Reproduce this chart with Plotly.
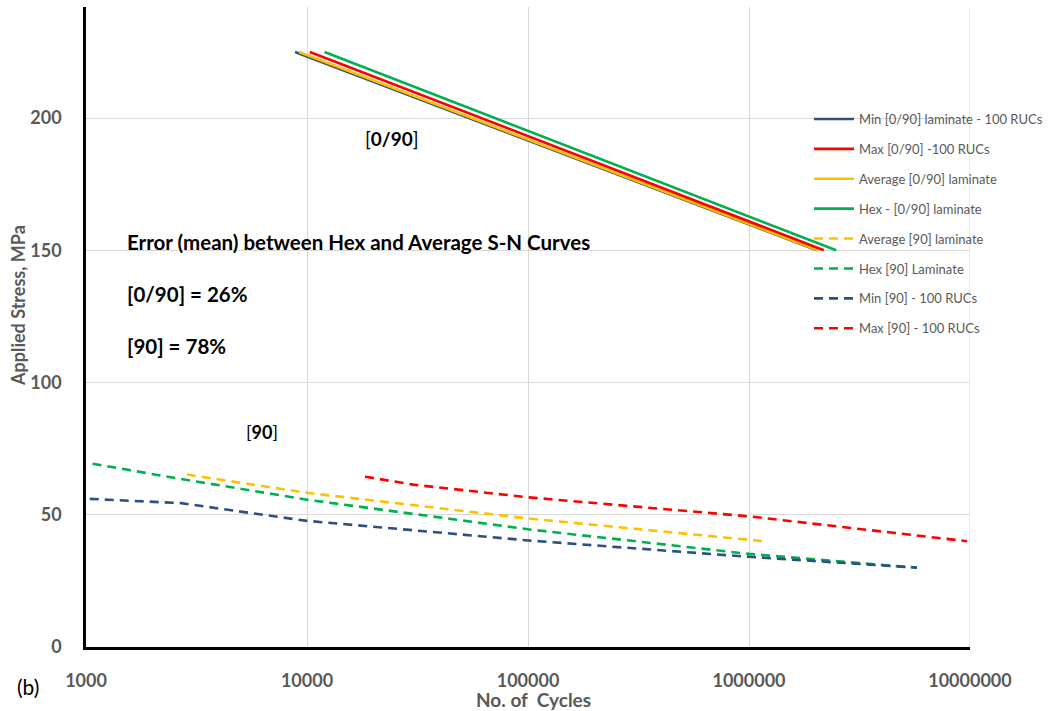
import plotly.graph_objects as go

# S-N data: number of cycles vs applied stress (MPa)
min_0_90_n = [8830, 2.03e6]
min_0_90_s = [225, 150]
max_0_90_n = [10300, 2.18e6]
max_0_90_s = [225, 150]
avg_0_90_n = [9200, 2.05e6]
avg_0_90_s = [225, 150]
hex_0_90_n = [12000, 2.48e6]
hex_0_90_s = [225, 150]

avg_90_n = [2860, 10000, 100000, 1.16e6]
avg_90_s = [65.2, 58.3, 48.6, 40]
hex_90_n = [1070, 2660, 10000, 100000, 1e6, 5.75e6]
hex_90_s = [69.3, 63.6, 55.7, 44.5, 35.2, 30]
min_90_n = [1040, 2700, 5000, 10000, 100000, 1e6, 5.75e6]
min_90_s = [56, 54.4, 51.2, 47.7, 40.3, 34.1, 30]
max_90_n = [18300, 30200, 100000, 1e6, 9.7e6]
max_90_s = [64.4, 61.4, 56.6, 49.4, 40]

x_ticks = [1000, 10000, 100000, 1000000, 10000000]
x_tick_text = ["1000", "10000", "100000", "1000000", "10000000"]
y_ticks = [0, 50, 100, 150, 200]
y_tick_text = ["0", "50", "100", "150", "200"]

BLUE = "#2E4F7F"
RED = "#FF0000"
YELLOW = "#FFC000"
GREEN = "#00B050"
GREY = "#595959"
GRID = "#D9D9D9"
FONT = "Lato"
DASH = "9px,6px"

series = [
    ("Min [0/90] laminate - 100 RUCs", min_0_90_n, min_0_90_s, BLUE, "solid"),
    ("Max [0/90] -100 RUCs", max_0_90_n, max_0_90_s, RED, "solid"),
    ("Average [0/90] laminate", avg_0_90_n, avg_0_90_s, YELLOW, "solid"),
    ("Hex - [0/90] laminate", hex_0_90_n, hex_0_90_s, GREEN, "solid"),
    ("Average [90] laminate", avg_90_n, avg_90_s, YELLOW, DASH),
    ("Hex [90] Laminate", hex_90_n, hex_90_s, GREEN, DASH),
    ("Min [90] - 100 RUCs", min_90_n, min_90_s, BLUE, DASH),
    ("Max [90] - 100 RUCs", max_90_n, max_90_s, RED, DASH),
]

fig = go.Figure()
# draw order: blue under yellow under red under green for the solid set
draw_order = [0, 2, 1, 3, 4, 5, 6, 7]
for i in draw_order:
    name, n, s, color, dash = series[i]
    fig.add_trace(go.Scatter(
        x=n, y=s, mode="lines", name=name,
        line=dict(color=color, width=2.6, dash=dash),
        legendgroup=f"g{i}", legendrank=i + 1,
    ))

W0, W1, H0, H1 = 86, 970, 7, 647


def px_to_paper(px, py):
    return (px - W0) / (W1 - W0), (H1 - py) / (H1 - H0)


ann = []


def add_text(px, py, text, size, color, xanchor="center", yanchor="middle", angle=0):
    xp, yp = px_to_paper(px, py)
    ann.append(dict(x=xp, y=yp, xref="paper", yref="paper", text=text,
                    xanchor=xanchor, yanchor=yanchor, textangle=angle,
                    showarrow=False, font=dict(family=FONT, size=size, color=color)))


add_text(392, 138, "[<b>0/90</b>]", 19, "#000000")
add_text(262, 432, "[<b>90</b>]", 18, "#000000")
add_text(125, 242, "<b>Error (mean) between Hex and Average S-N Curves</b>", 20.5, "#000000", xanchor="left")
add_text(125, 294, "<b>[0/90] = 26%</b>", 20.5, "#000000", xanchor="left")
add_text(125, 346, "<b>[90] = 78%</b>", 20.5, "#000000", xanchor="left")
# axis titles
add_text(18, 306, "<b>Applied Stress, MPa</b>", 18, GREY, angle=-90)
add_text(533, 699, "<b>No. of  Cycles</b>", 19, GREY)
# top title (mostly outside the page)
add_text(527, 3, "<b>No. of Cycles</b>", 19, "#404040", yanchor="bottom")
# panel label
add_text(28, 686, "(b)", 21, "#000000")

lx, ly = px_to_paper(809, 104)

fig.update_layout(
    width=1051, height=711,
    margin=dict(l=W0, r=1051 - W1, t=H0, b=711 - H1, autoexpand=False),
    paper_bgcolor="white", plot_bgcolor="white",
    font=dict(family=FONT, color=GREY),
    showlegend=True,
    legend=dict(x=lx, y=ly, xanchor="left", yanchor="top", bgcolor="rgba(0,0,0,0)",
                font=dict(family=FONT, size=13, color=GREY), tracegroupgap=10,
                itemwidth=40),
    annotations=ann,
    # gridline at the right end of the log axis
    shapes=[dict(type="line", xref="x", yref="paper", x0=1e7, x1=1e7, y0=0, y1=1,
                 line=dict(color=GRID, width=1), layer="below")],
    xaxis=dict(type="log", range=[3, 7], tickvals=x_ticks, ticktext=x_tick_text,
               showgrid=True, gridcolor=GRID, gridwidth=1,
               showline=True, linecolor="#000000", linewidth=2.5,
               ticks="", tickfont=dict(family=FONT, size=18, color=GREY, weight="bold"),
               ticklabelstandoff=16, zeroline=False),
    yaxis=dict(range=[0, 242], tickvals=y_ticks, ticktext=y_tick_text,
               showgrid=True, gridcolor=GRID, gridwidth=1,
               showline=True, linecolor="#000000", linewidth=2.5,
               ticks="", tickfont=dict(family=FONT, size=18, color=GREY, weight="bold"),
               ticklabelstandoff=18, zeroline=False),
)

fig.write_html("out.html")
